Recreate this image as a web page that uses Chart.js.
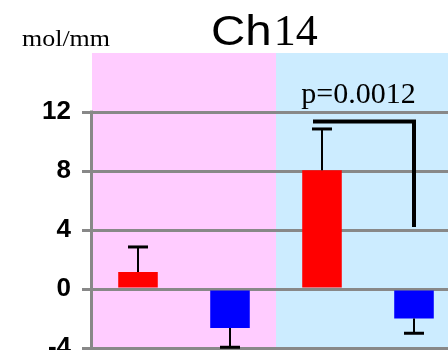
<!DOCTYPE html>
<html>
<head>
<meta charset="utf-8">
<script src="https://cdn.jsdelivr.net/npm/chart.js@4.4.0/dist/chart.umd.min.js"></script>
<style>
  html, body { margin: 0; padding: 0; background: #fff; overflow: hidden; }
  #wrap { width: 448px; height: 350px; overflow: hidden; }
</style>
</head>
<body>
<div id="wrap"><canvas id="chart" width="460" height="370"></canvas></div>
<script>
// values (mol/mm)
const categories = ['A1', 'A2', 'B1', 'B2'];
const means = [1.15, -2.65, 8.05, -2.0];
const errors = [1.7, 1.3, 2.8, 1.0];
const barColors = ['#ff0000', '#0000ff', '#ff0000', '#0000ff'];
const yTicks = [-4, 0, 4, 8, 12];
const pLabel = 'p=0.0012';

const decor = {
  id: 'decor',
  beforeDraw(chart) {
    const { ctx, chartArea: a, scales: { x, y } } = chart;
    const top = y.getPixelForValue(16);
    const mid = (x.getPixelForValue(1) + x.getPixelForValue(2)) / 2;
    ctx.save();
    ctx.fillStyle = '#ffccff';
    ctx.fillRect(a.left, top, mid - a.left, chart.height - top);
    ctx.fillStyle = '#ccecff';
    ctx.fillRect(mid, top, chart.width - mid, chart.height - top);
    ctx.restore();
  },
  beforeDatasetsDraw(chart) {
    // y axis line, from the top tick down past the bottom edge
    const { ctx, chartArea: a, scales: { y } } = chart;
    ctx.save();
    ctx.strokeStyle = '#888';
    ctx.lineWidth = 3;
    ctx.beginPath();
    ctx.moveTo(a.left - 0.5, y.getPixelForValue(12) - 1.5);
    ctx.lineTo(a.left - 0.5, chart.height);
    ctx.stroke();
    ctx.restore();
  },
  afterDatasetsDraw(chart) {
    const { ctx, scales: { x, y } } = chart;
    ctx.save();
    ctx.strokeStyle = '#000';
    ctx.lineCap = 'butt';
    // error bars, away from zero
    means.forEach((v, i) => {
      const cx = x.getPixelForValue(i);
      const end = v >= 0 ? v + errors[i] : v - errors[i];
      const y0 = y.getPixelForValue(v), y1 = y.getPixelForValue(end);
      ctx.lineWidth = 2;
      ctx.beginPath(); ctx.moveTo(cx, y0); ctx.lineTo(cx, y1); ctx.stroke();
      ctx.lineWidth = 3;
      ctx.beginPath(); ctx.moveTo(cx - 10, y1); ctx.lineTo(cx + 10, y1); ctx.stroke();
    });
    // significance bracket between the two right bars
    const xl = x.getPixelForValue(2) - 9, xr = x.getPixelForValue(3);
    const yt = y.getPixelForValue(11.35), yb = y.getPixelForValue(4.2);
    ctx.lineWidth = 4;
    ctx.lineJoin = 'miter';
    ctx.beginPath(); ctx.moveTo(xl, yt); ctx.lineTo(xr, yt); ctx.lineTo(xr, yb); ctx.stroke();
    ctx.fillStyle = '#000';
    ctx.font = '30px "Liberation Serif"';
    ctx.textAlign = 'center';
    ctx.textBaseline = 'alphabetic';
    ctx.fillText(pLabel, (xl + xr) / 2 - 5, y.getPixelForValue(12) - 9);
    ctx.restore();
  },
  afterDraw(chart) {
    const { ctx } = chart;
    ctx.save();
    ctx.fillStyle = '#000';
    ctx.textBaseline = 'alphabetic';
    ctx.textAlign = 'left';
    // title, "Ch" sans (a bit wide) + "14" serif
    ctx.font = '42px "Liberation Sans"';
    const cw = ctx.measureText('Ch').width * 1.13;
    ctx.save();
    ctx.translate(211, 45);
    ctx.scale(1.13, 1);
    ctx.fillText('Ch', 0, 0);
    ctx.restore();
    ctx.font = '44px "Liberation Serif"';
    ctx.fillText('14', 211 + cw + 2, 45);
    // unit label, slightly stretched
    ctx.font = '23px "Liberation Serif"';
    const uw = ctx.measureText('mol/mm').width;
    ctx.translate(22, 46);
    ctx.scale(88 / uw, 1);
    ctx.fillText('mol/mm', 0, 0);
    ctx.restore();
  }
};

new Chart(document.getElementById('chart'), {
  type: 'bar',
  data: {
    labels: categories,
    datasets: [{
      data: means,
      backgroundColor: barColors,
      borderWidth: 0,
      barPercentage: 0.43,
      categoryPercentage: 1
    }]
  },
  options: {
    responsive: false,
    animation: false,
    layout: { padding: { top: 112, right: 0, bottom: 22, left: 0 } },
    plugins: { legend: { display: false }, tooltip: { enabled: false } },
    scales: {
      x: { display: false },
      y: {
        min: -4,
        max: 12,
        afterBuildTicks(s) { s.ticks = yTicks.map(v => ({ value: v })); },
        afterFit(s) { s.width = 92; s.paddingTop = 0; s.paddingBottom = 0; },
        ticks: {
          padding: 11,
          color: '#000',
          font: { family: 'Liberation Sans', size: 26, weight: 'bold' }
        },
        grid: { color: '#888', lineWidth: 3, tickLength: 10, tickColor: '#888', tickWidth: 3 },
        border: { display: false }
      }
    }
  },
  plugins: [decor]
});
</script>
</body>
</html>
